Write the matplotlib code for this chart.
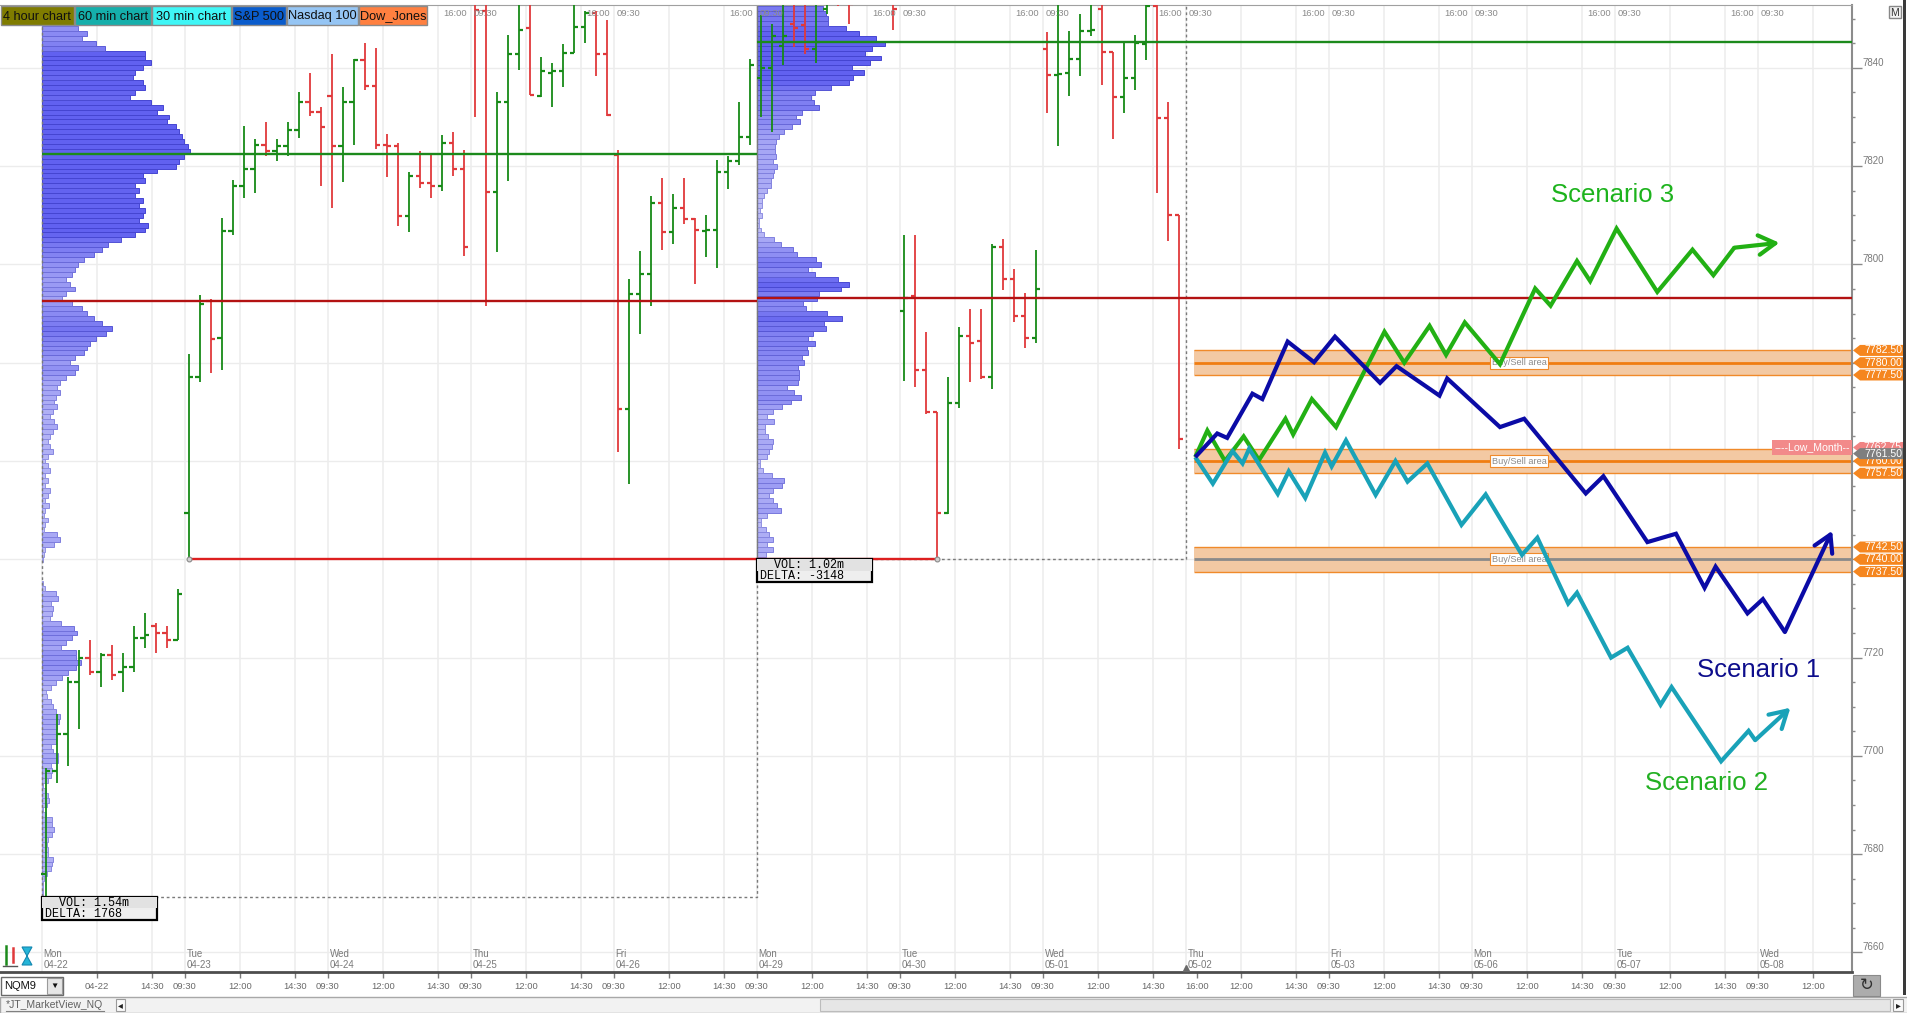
import numpy as np
import matplotlib
matplotlib.use("Agg")
import matplotlib.pyplot as plt
import matplotlib.patches as patches
import matplotlib.transforms as mtransforms

plt.rcParams['font.family'] = ['Liberation Sans', 'DejaVu Sans']

W, H = 1908, 1013

# ---------------- data ----------------
# NQM9 30 min bars, regular session only (13 bars per day), Mon 04-22 .. Wed 05-01
opens = [7676, 7697, 7704.5, 7715, 7720, 7717, 7720.5, 7717, 7718, 7724, 7726.5, 7725, 7723.5,
         7749.5, 7777, 7792.5, 7785, 7806.75, 7816, 7819.5, 7824.25, 7823, 7824, 7827.25, 7833, 7831,
         7834.25, 7824, 7833, 7841.5, 7836.25, 7824.25, 7824, 7809.75, 7818, 7816.5, 7816, 7824.75, 7819.5,
         7858, 7851.5, 7814.75, 7833, 7842.75, 7848, 7834.25, 7839, 7839.25, 7843, 7848.25, 7851.25, 7842.75,
         7822.25, 7770.5, 7794, 7798, 7812.5, 7806.5, 7811.5, 7809.25, 7806.75, 7807, 7818.75, 7821, 7826,
         7838, 7840, 7844.5, 7849, 7848.75, 7843.75, 7852, 7862, 7858, 7862, 7860, 7863, 7858,
         7790.5, 7793.5, 7778.5, 7770, 7749.5, 7771.75, 7785.5, 7784.5, 7777, 7803.5, 7797, 7789.5, 7785,
         7843.75, 7838.5, 7839, 7841.75, 7847.5, 7852, 7843.25, 7834, 7838, 7844.75, 7852.5, 7829.75, 7810]
highs = [7697.5, 7708.5, 7716, 7721.5, 7723.5, 7721, 7722.5, 7721, 7726.5, 7729, 7727, 7726.5, 7734,
         7781.75, 7793.75, 7793, 7809.5, 7817.25, 7828.25, 7825.5, 7829, 7825.5, 7829, 7835, 7839, 7832,
         7842.75, 7836, 7841.75, 7845, 7844, 7826.5, 7824.75, 7818.75, 7823, 7822.75, 7826.25, 7827, 7823.25,
         7862, 7856, 7835, 7846.75, 7856, 7857, 7842.25, 7841, 7844.75, 7855, 7851.5, 7851.5, 7849.75,
         7823.25, 7797, 7802.75, 7814, 7817.5, 7814.25, 7817.5, 7809.5, 7810, 7821.25, 7822, 7833, 7841.75,
         7850.75, 7849, 7856, 7857, 7855, 7856, 7860, 7865, 7862, 7868, 7866, 7867, 7861,
         7806, 7806, 7786.25, 7770, 7777, 7787.25, 7791, 7791, 7804.25, 7805.25, 7799, 7794.25, 7803,
         7847.25, 7856, 7847.5, 7851, 7856, 7855, 7843.25, 7845.5, 7846.75, 7856, 7856, 7833, 7810]
lows = [7671.25, 7694.5, 7698, 7705.5, 7716.5, 7714, 7715.5, 7713, 7717, 7722, 7721, 7722, 7723.5,
        7740, 7776, 7778, 7778.5, 7806, 7813.5, 7814.5, 7822, 7821, 7822, 7825.75, 7830.25, 7816,
        7811.5, 7816.75, 7824.25, 7835.5, 7823.5, 7817.75, 7807.75, 7806.5, 7815.5, 7813.5, 7815, 7818, 7801.75,
        7830, 7791.5, 7802.5, 7817, 7839.5, 7834.5, 7834, 7832, 7836, 7843, 7845, 7838.25, 7830.25,
        7761.75, 7755.25, 7785.75, 7791.5, 7803, 7804.25, 7808.25, 7796, 7801.5, 7799.25, 7815.25, 7820.25, 7824.25,
        7830, 7827, 7840.5, 7844.25, 7842.75, 7841, 7851, 7852.5, 7849, 7856, 7855, 7856, 7847.75,
        7776.25, 7775, 7769.5, 7740, 7749.25, 7770.75, 7776, 7776.75, 7774.75, 7794.75, 7788.25, 7783, 7784,
        7830.75, 7824, 7834.25, 7838.25, 7846.5, 7836.5, 7825.5, 7830.75, 7835.5, 7841.5, 7814.5, 7804.75, 7762.5]
closes = [7697, 7704.5, 7715, 7720, 7717, 7720.5, 7716.5, 7718, 7724, 7724.5, 7725, 7723.5, 7733,
          7777, 7792, 7784.75, 7806.75, 7816, 7819.5, 7824.25, 7823, 7824, 7827.25, 7833, 7831, 7828,
          7824, 7833, 7841.5, 7836.25, 7824.25, 7824, 7809.75, 7818, 7816.5, 7816, 7824.75, 7819.5, 7803.5,
          7851.75, 7814.75, 7833, 7842.75, 7847.75, 7834.5, 7839.25, 7839.25, 7843, 7848.25, 7851.25, 7842.75, 7830.5,
          7770.5, 7794, 7798, 7812.5, 7806.5, 7811.5, 7809.25, 7807, 7807, 7818.75, 7821, 7826, 7840.5,
          7840, 7846.5, 7846.5, 7848, 7843.75, 7845.25, 7855, 7856, 7853, 7860, 7863, 7858, 7852,
          7793.25, 7778.5, 7770, 7749.5, 7771.75, 7785.5, 7784, 7777, 7803.5, 7797, 7789.5, 7785, 7795,
          7838.5, 7838.75, 7841.75, 7847.5, 7847.75, 7843.25, 7834, 7838, 7845, 7852.5, 7829.75, 7810, 7764.5]

BARS_PER_DAY = 13
day_names = ["Mon", "Tue", "Wed", "Thu", "Fri", "Mon", "Tue", "Wed", "Thu", "Fri", "Mon", "Tue", "Wed"]
day_dates = ["04-22", "04-23", "04-24", "04-25", "04-26", "04-29", "04-30", "05-01",
             "05-02", "05-03", "05-06", "05-07", "05-08"]
session_labels = ["09:30", "12:00", "14:30"]
session_offsets = [0, 5, 10]

# weekly volume profiles, one row per index point (relative volume)
prof1_low = 7671
prof1_vol = [4,
             5, 5, 5, 7, 17, 27, 32, 34, 20, 20, 15, 20, 32, 37, 32, 30, 12, 5, 17, 22,
             20, 12, 5, 20, 27, 30, 27, 50, 50, 35, 27, 42, 44, 44, 47, 52, 54, 42, 34, 27,
             17, 12, 27, 42, 62, 80, 104, 117, 102, 102, 57, 72, 92, 107, 96, 57, 24, 32, 35, 29,
             50, 44, 10, 5,
             0, 0, 0, 0, 5, 8,
             11, 37, 55, 47, 7, 11, 18, 7, 11, 22, 11, 18, 26, 11, 18, 11, 26, 18, 11, 18,
             33, 26, 18, 26, 33, 47, 37, 26, 33, 47, 37, 44, 55, 47, 55, 73, 99, 110, 84, 99,
             128, 135, 146, 164, 193, 212, 182, 157, 135, 120, 91, 62, 73, 99, 84, 73, 91, 99, 110, 128,
             157, 182, 200, 237, 281, 310, 318, 292, 303, 310, 292, 303, 281, 292, 281, 310, 303, 347, 402, 412,
             427, 445, 438, 427, 420, 412, 402, 376, 383, 347, 365, 328, 266, 281, 310, 303, 274, 281, 303, 328,
             310, 310, 190, 164, 120, 135,
             110, 96, 84, 70, 62]
prof2_low = 7740
prof2_vol = [9, 27, 47, 29, 47, 35, 27, 12, 12, 29, 72, 59, 47, 37, 47, 75, 80, 44, 19, 9,
             9, 29, 37, 44, 47, 32, 25, 25, 50, 29, 47, 74, 102, 132, 110, 89, 122, 125, 125, 122,
             140, 134, 152, 149, 174, 154, 167, 207, 202, 254, 209, 147, 137, 179, 185, 252, 275, 242, 174, 152,
             192, 177, 120, 107, 72, 50, 20, 12, 7, 7, 14, 10, 14, 14, 20, 29, 42, 42, 49, 50,
             60, 47, 57, 54, 54, 57, 67, 82, 105, 129, 117, 135, 185, 172, 162, 174, 222, 275, 287, 322,
             285, 339, 372, 324, 344, 384, 357, 305, 267, 212, 212, 207, 197]
prof_start = [0, 65]
prof_end = [65, 104]
prof_poc = [7822.5, 7845.25]
prof_vwap = [7792.5, 7793.25]
prof_text = [["  VOL: 1.54m", "DELTA: 1768"], ["  VOL: 1.02m", "DELTA: -3148"]]
prof_lowp = [7671.25, 7740]

naked_low = 7740
naked_from, naked_to = 13, 81

zone_mid = [7780, 7760, 7740]
zone_half = 2.5
zone_from = 104.4
tag_prices = [7782.5, 7780.0, 7777.5, 7760.0, 7757.5, 7742.5, 7740.0, 7737.5]

low_month = 7762.75
last_price = 7761.50

# drawn scenarios (bar position, price)
sc1_x = [104.5, 106.5, 107.4, 109.7, 110.6, 112.9, 115.3, 117.2, 121.3, 122.8, 126.7, 127.4,
         132.2, 134.4, 140.0, 141.6, 145.6, 148.2, 150.8, 151.8, 154.7, 156.1, 158.1, 162.4]
sc1_y = [7760.8, 7765.6, 7764.7, 7773.7, 7772.6, 7784.3, 7780.1, 7785.3, 7775.9, 7779.3, 7773.3, 7776.8,
         7766.9, 7768.6, 7753.4, 7756.9, 7743.5, 7745.2, 7734.2, 7738.5, 7729.0, 7731.9, 7725.2, 7745.8]
sc2_x = [104.5, 106.1, 107.9, 108.8, 109.4, 112.0, 113.0, 114.5, 116.3, 116.9, 118.2, 120.9, 122.7,
         123.8, 125.6, 128.7, 130.9, 134.2, 135.6, 138.4, 139.2, 142.3, 143.8, 146.8, 147.8, 152.3,
         154.8, 155.4, 158.6]
sc2_y = [7760.8, 7755.4, 7762.0, 7759.5, 7762.5, 7753.3, 7757.9, 7752.5, 7761.7, 7758.9, 7764.2, 7753.1,
         7760.0, 7755.8, 7759.5, 7747.0, 7753.2, 7740.9, 7744.4, 7731.0, 7733.2, 7720.0, 7722.0, 7710.4,
         7714.0, 7698.9, 7705.1, 7703.2, 7709.8]
sc3_x = [104.5, 105.6, 107.2, 108.9, 110.3, 112.7, 113.4, 115.1, 117.3, 121.7, 123.5, 125.8, 127.3,
         129.0, 132.2, 135.4, 136.8, 139.2, 140.4, 142.8, 146.5, 149.7, 151.6, 153.5, 157.6]
sc3_y = [7760.8, 7766.2, 7760.0, 7765.0, 7760.2, 7768.6, 7765.4, 7772.6, 7766.9, 7786.3, 7780.0, 7787.5,
         7781.6, 7788.2, 7779.7, 7795.1, 7791.6, 7800.7, 7796.6, 7807.3, 7794.4, 7803.0, 7797.8, 7803.4, 7804.4]
sc_names = ["Scenario 1", "Scenario 2", "Scenario 3"]
sc_label_x = [150.1, 145.4, 136.8]
sc_label_y = [7716.0, 7693.0, 7812.7]

buttons = ["4 hour chart", "60 min chart", "30 min chart", "S&P 500", "Nasdaq 100", "Dow_Jones"]
button_colors = ["#7f7c00", "#15afab", "#3ff6f6", "#0a5ccc", "#95c5f4", "#ff8040"]

# ---------------- figure ----------------
GREEN = "#178a17"
RED = "#e0393b"
SLOT = -0.35   # session boundary sits a little left of the first bar

fig = plt.figure(figsize=(W / 100, H / 100), dpi=100)
ax = fig.add_axes([0, 41 / H, 1852 / W, 967 / H])
ax.set_xlim(-4.15, 164.2)
ax.set_ylim(7656.03, 7852.78)
x_right = ax.get_xlim()[1]
y_top = ax.get_ylim()[1]

# grid + right price scale (levels hidden behind the zone tags get no label)
yt = np.arange(7660, 7841, 20)
ax.set_yticks(yt, ["" if v in zone_mid else str(v) for v in yt])
ax.set_yticks(np.arange(7660, 7851, 5), minor=True)
ax.yaxis.grid(True, which="major", color="#ececec", lw=1, zorder=0)
ax.set_axisbelow(True)
for d in range(len(day_names)):
    for off in session_offsets:
        gx = BARS_PER_DAY * d + off + SLOT
        if gx < x_right:
            ax.axvline(gx, color="#ececec", lw=1.1, zorder=0)

# x tick labels (bottom time scale)
tick_pos, tick_lab = [], []
for d in range(len(day_names)):
    for lab, off in zip(session_labels, session_offsets):
        pos = BARS_PER_DAY * d + off + SLOT
        if d == 0 and off == 0:
            continue
        if d == 0 and off == 5:
            lab = day_dates[0]
        if d == 8 and off == 0:
            lab, pos = "16:00", pos + 1
        if pos < x_right:
            tick_pos.append(pos)
            tick_lab.append(lab)
ax.set_xticks(tick_pos, tick_lab)

# volume profiles
def prof_colors(vol):
    t = np.clip(np.array(vol) / 300.0, 0, 1) ** 0.6
    light = np.array([0.80, 0.80, 0.97])
    dark = np.array([0.38, 0.38, 0.94])
    elight = np.array([0.62, 0.62, 0.90])
    edark = np.array([0.27, 0.27, 0.82])
    fc = light + (dark - light) * t[:, None]
    ec = elight + (edark - elight) * t[:, None]
    return fc, ec

VOL_PER_BAR = 33.0
for low, vol, s in [(prof1_low, prof1_vol, prof_start[0]), (prof2_low, prof2_vol, prof_start[1])]:
    vol = np.array(vol, dtype=float)
    prices = low + np.arange(len(vol))
    keep = vol > 0
    fc, ec = prof_colors(vol[keep])
    ax.barh(prices[keep], vol[keep] / VOL_PER_BAR, height=1.0, left=s + SLOT,
            color=fc, edgecolor=ec, linewidth=0.7, zorder=1)

# profile boxes (dashed)
for s, e, lp in zip(prof_start, prof_end, prof_lowp):
    ax.plot([s + SLOT, s + SLOT, e + SLOT, e + SLOT], [y_top + 5, lp, lp, y_top + 5],
            color="#7a7a7a", lw=1, dashes=(2, 2), zorder=1.5)

# OHLC bars
o, h, l, c = map(np.array, (opens, highs, lows, closes))
xb = np.arange(len(o))
cols = np.where(c >= o, GREEN, RED)
ax.vlines(xb, l, h, colors=cols, lw=1.3, zorder=3)
ax.hlines(o, xb - 0.38, xb, colors=cols, lw=1.6, zorder=3)
ax.hlines(c, xb, xb + 0.38, colors=cols, lw=1.6, zorder=3)

# POC / VWAP lines
ax.hlines(prof_poc[0], prof_start[0] + SLOT, prof_end[0] + SLOT, color="#1c8a1c", lw=1.7, zorder=4)
ax.hlines(prof_vwap[0], prof_start[0] + SLOT, prof_end[0] + SLOT, color="#b31212", lw=1.7, zorder=4)
ax.hlines(prof_poc[1], prof_start[1] + SLOT, x_right, color="#1c8a1c", lw=1.7, zorder=4)
ax.hlines(prof_vwap[1], prof_start[1] + SLOT, x_right, color="#b31212", lw=1.7, zorder=4)

# naked low
ax.hlines(naked_low, naked_from, naked_to, color="#dd1f1f", lw=1.7, zorder=4)
ax.plot([naked_from, naked_to], [naked_low, naked_low], "o", ms=3.5, mfc="#d0d0d0", mec="#8a8a8a",
        mew=0.8, zorder=4.5)

# VOL / DELTA boxes
for s, lp, txt in zip(prof_start, prof_lowp, prof_text):
    x0 = s + SLOT
    ax.add_patch(patches.Rectangle((x0, lp - 4.6), 10.45, 4.6, fc="#eeeeee", ec="black", lw=1.6,
                                   zorder=6, clip_on=False))
    ax.add_patch(patches.Rectangle((x0, lp - 2.3), 10.45, 2.3, fc="#e2e2e2", ec="none", zorder=6.1))
    ax.text(x0 + 0.3, lp - 1.25, txt[0], family="Liberation Mono", fontsize=8.5, va="center",
            ha="left", zorder=7)
    ax.text(x0 + 0.3, lp - 3.4, txt[1], family="Liberation Mono", fontsize=8.5, va="center",
            ha="left", zorder=7)

# buy/sell zones
for i, m in enumerate(zone_mid):
    ax.fill_between([zone_from, x_right], m - zone_half, m + zone_half, color="#f3c9a3", lw=0, zorder=2)
    ax.hlines([m - zone_half, m + zone_half], zone_from, x_right, color="#f08a2a", lw=1.0, zorder=2.2)
    ax.hlines(m, zone_from, x_right, color="#8a8a8a" if i == 2 else "#f07d12", lw=2.0, zorder=2.3)
    ax.text(131.45, m, "Buy/Sell area", fontsize=6.6, color="#8a8a8a", ha="left", va="center", zorder=2.5,
            bbox=dict(boxstyle="square,pad=0.15", fc="white", ec="#f08a2a", lw=0.8))

# scenarios
for xs, ys, col in [(sc3_x, sc3_y, "#22b014"), (sc2_x, sc2_y, "#19a2b8"), (sc1_x, sc1_y, "#0b0ba6")]:
    ax.plot(xs[:-1], ys[:-1], color=col, lw=3.0, solid_joinstyle="miter", solid_capstyle="butt", zorder=6)
    ax.annotate("", xy=(xs[-1], ys[-1]), xytext=(xs[-2], ys[-2]), zorder=6,
                arrowprops=dict(arrowstyle="->,head_length=0.6,head_width=0.35", color=col, lw=3.0,
                                shrinkA=0, shrinkB=0, mutation_scale=20))
for name, tx, ty, col in zip(sc_names, sc_label_x, sc_label_y, ["#0d0d8c", "#22b022", "#1db31d"]):
    ax.text(tx, ty, name, fontsize=18.5, color=col, ha="left", va="baseline", zorder=7)

# day labels and session labels
bx = mtransforms.blended_transform_factory(ax.transData, ax.transAxes)
for d, (dn, dd) in enumerate(zip(day_names, day_dates)):
    ax.text(BARS_PER_DAY * d - 0.2, 0.002, dn + "\n" + dd, transform=bx, fontsize=7, color="#7a7a7a",
            ha="left", va="bottom", linespacing=1.15, zorder=5)
    if d >= 3:
        ax.text(BARS_PER_DAY * d - 0.75, 0.9912, "16:00", transform=bx, fontsize=6.8, color="#8a8a8a",
                ha="right", va="center", zorder=5)
        ax.text(BARS_PER_DAY * d - 0.1, 0.9912, "09:30", transform=bx, fontsize=6.8, color="#8a8a8a",
                ha="left", va="center", zorder=5)
ax.plot([BARS_PER_DAY * 8 + SLOT], [0.004], marker="^", ms=4, color="#6a6a6a", transform=bx,
        clip_on=False, zorder=8)

# axis styling
ax.yaxis.tick_right()
ax.tick_params(axis="y", which="major", length=7.2, width=1, colors="#8a8a8a", labelsize=7,
               labelcolor="#7a7a7a", pad=0.5)
ax.tick_params(axis="y", which="minor", length=2.5, width=1, colors="#8a8a8a")
ax.tick_params(axis="x", which="major", length=4.5, width=1, colors="#7a7a7a", labelsize=6.8,
               labelcolor="#6a6a6a", pad=2.5)
plt.setp(ax.get_yticklabels(), va="bottom")
ax.spines["left"].set_visible(False)
ax.spines["top"].set_color("#a0a0a0")
ax.spines["right"].set_color("#8c8c8c")
ax.spines["right"].set_linewidth(1.5)
ax.spines["bottom"].set_color("#4d4d4d")
ax.spines["bottom"].set_linewidth(2)

# price tags on the right scale
by = mtransforms.blended_transform_factory(ax.transAxes, ax.transData)
AXW = 1852.0
hh = 5.5 * (y_top - ax.get_ylim()[0]) / 967.0

def price_tag(p, fc, z):
    tip, body, right = 1 + 1 / AXW, 1 + 8 / AXW, 1 + 53 / AXW
    ax.add_patch(patches.Polygon([(tip, p), (body, p + hh), (right, p + hh), (right, p - hh), (body, p - hh)],
                                 closed=True, transform=by, fc=fc, ec="none", clip_on=False, zorder=z))
    ax.text(1 + 31 / AXW, p, f"{p:.2f}", transform=by, ha="center", va="center", fontsize=7.6,
            color="white", clip_on=False, zorder=z + 0.1)

for p in tag_prices:
    price_tag(p, "#f5861f", 10)
price_tag(low_month, "#f08484", 11)
price_tag(last_price, "#7f7f7f", 12)
ax.text(1 - 2 / AXW, low_month, "----Low_Month--", transform=by, ha="right", va="center", fontsize=7.6,
        color="white", zorder=9, bbox=dict(boxstyle="square,pad=0.2", fc="#f28a8a", ec="none"))

# ---------------- window chrome ----------------
def fig_rect(x0, y0, x1, y1, **kw):
    r = patches.Rectangle((x0 / W, 1 - y1 / H), (x1 - x0) / W, (y1 - y0) / H,
                          transform=fig.transFigure, **kw)
    fig.add_artist(r)

def fig_text(x, y, s, **kw):
    fig.text(x / W, 1 - y / H, s, **kw)

edges = [0, 74.5, 151.5, 231.5, 286.5, 358.5, 428]
for i, (b, bc) in enumerate(zip(buttons, button_colors)):
    fig_rect(edges[i] + 0.5, 6.5, edges[i + 1] - 0.5, 25.5, fc=bc, ec="#8a8a8a", lw=1, zorder=20)
    fig_text((edges[i] + edges[i + 1]) / 2, 16.5, b, ha="center", va="center", fontsize=9.2,
             color="#101010", zorder=21)

fig_rect(1889, 6, 1901, 18, fc="#f4f4f4", ec="#888888", lw=1, zorder=20)
fig_text(1895, 12.5, "M", ha="center", va="center", fontsize=7.5, color="#333333", zorder=21)
fig_rect(1903, 0, 1906, 995, fc="#3a3a3a", ec="none", zorder=20)

# bottom bar
fig_rect(0, 997, W, H, fc="#f2f2f2", ec="#a8a8a8", lw=1, zorder=20)
fig_text(6, 1005, "*JT_MarketView_NQ", ha="left", va="center", fontsize=7.5, color="#606060", zorder=21)
fig.add_artist(plt.Line2D([6 / W, 104 / W], [1 - 1011 / H, 1 - 1011 / H], transform=fig.transFigure,
                          color="#808080", lw=0.8, zorder=21))
fig_rect(116, 999, 125, 1011, fc="#fafafa", ec="#9a9a9a", lw=0.8, zorder=21)
fig_text(120.5, 1005, "◂", ha="center", va="center", fontsize=7, color="#222222", zorder=22)
fig_rect(1893, 999, 1903, 1011, fc="#fafafa", ec="#9a9a9a", lw=0.8, zorder=21)
fig_text(1898, 1005, "▸", ha="center", va="center", fontsize=7, color="#222222", zorder=22)
fig_rect(820, 999, 1890, 1011, fc="#e6e6e6", ec="#bcbcbc", lw=0.8, zorder=21)

fig_rect(1, 977, 63, 995, fc="white", ec="#6a6a6a", lw=1, zorder=20)
fig_text(4, 986, "NQM9", ha="left", va="center", fontsize=8, color="#111111", zorder=21)
fig_rect(47, 978, 62, 994, fc="#e6e6e6", ec="#9a9a9a", lw=0.8, zorder=21)
fig_text(54.5, 986, "▼", ha="center", va="center", fontsize=6, color="#111111", zorder=22)

fig_rect(1853, 975, 1880, 996, fc="#acacac", ec="#8a8a8a", lw=0.8, zorder=20)
fig_text(1866.5, 985.5, "↻", ha="center", va="center", fontsize=12, color="#303030", zorder=21)

# tool icons bottom-left of the chart
for x, y0, y1, col in [(6, 946, 964, "#1c8a1c"), (13, 948, 962, "#e0393b")]:
    fig.add_artist(plt.Line2D([x / W, x / W], [1 - y1 / H, 1 - y0 / H], transform=fig.transFigure,
                              color=col, lw=1.8, zorder=20))
fig.add_artist(plt.Line2D([3 / W, 17 / W], [1 - 966 / H, 1 - 966 / H], transform=fig.transFigure,
                          color="#555555", lw=1, zorder=20))
fig.add_artist(patches.Polygon([(22 / W, 1 - 947 / H), (32 / W, 1 - 947 / H), (27 / W, 1 - 956 / H),
                                (32 / W, 1 - 965 / H), (22 / W, 1 - 965 / H), (27 / W, 1 - 956 / H)],
                               closed=True, transform=fig.transFigure, fc="#25b5d8", ec="#1588b0",
                               lw=0.8, zorder=20))

fig.savefig("out.png", dpi=100)
